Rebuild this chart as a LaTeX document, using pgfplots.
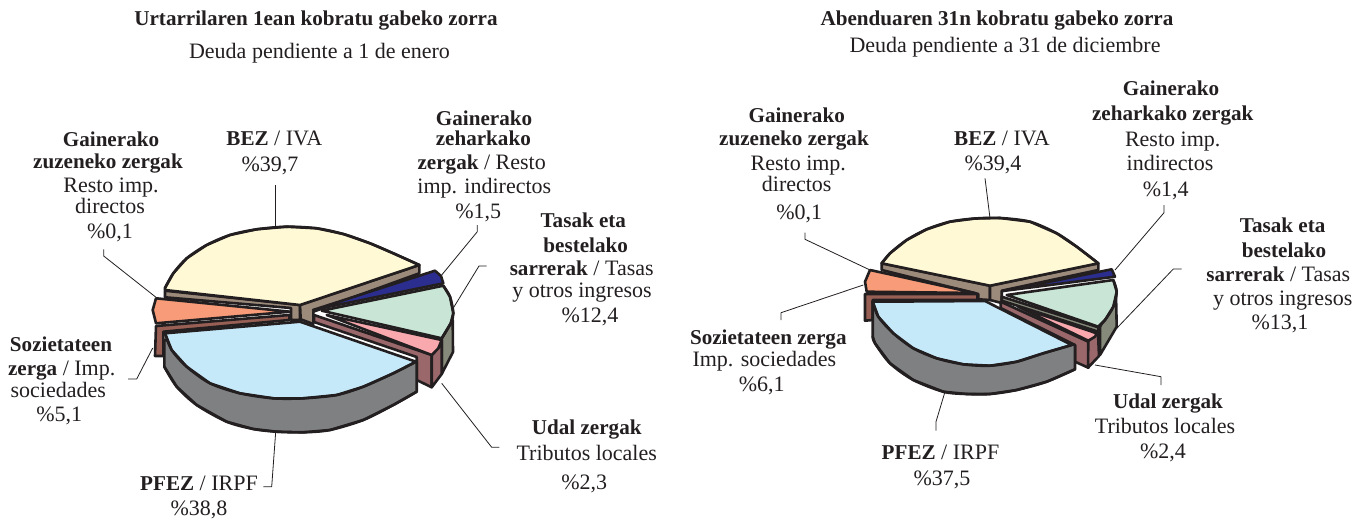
\documentclass[border=0pt]{standalone}
\usepackage{fontspec}
\setmainfont[BoldFeatures={Scale=0.96}]{Liberation Serif}
\usepackage{pgfplots}
\pgfplotsset{compat=1.18}

\definecolor{ink}{HTML}{231F20}
\definecolor{cYellow}{HTML}{FFF9D6}
\definecolor{cTan}{HTML}{9C8B7B}
\definecolor{cBlue}{HTML}{2B2E8F}
\definecolor{cGreen}{HTML}{C9E5D5}
\definecolor{cOlive}{HTML}{868A7A}
\definecolor{cPink}{HTML}{F9A8AE}
\definecolor{cMauve}{HTML}{9A686B}
\definecolor{cSalmon}{HTML}{F79B78}
\definecolor{cBrown}{HTML}{985F55}
\definecolor{cSky}{HTML}{C6E9FA}
\definecolor{cGray}{HTML}{7F8082}

\pgfplotsset{
  part/.style={draw=ink,line width=2.6pt,line join=round,fill=#1},
  edge/.style={draw=ink,line width=2.6pt,smooth,line cap=round},
  lead/.style={draw=ink,line width=0.8pt,line join=round},
}
\tikzset{lab/.style={anchor=base,inner sep=0pt,text=ink,font=\fontsize{22}{24}\selectfont}}

\begin{document}
\begin{tikzpicture}
\begin{axis}[
    width=1368pt, height=520pt, scale only axis,
    xmin=0, xmax=1368, ymin=0, ymax=520,
    y dir=reverse, hide axis, clip=false, no markers,
]
\path (axis cs:0,0) (axis cs:1368,520);

% ---- left pie ----
\addplot[part=cTan] coordinates {(165,290.7)(300,305)(300,320)(291,320)(291,308)(165,297.3)} --cycle;
\addplot[part=cTan] coordinates {(300,305)(419.3,265)(419.3,273.3)(313.3,311.7)(313.3,324)(300.7,319.3)} --cycle;
\addplot[part=cYellow] coordinates {(300,305)(165,290)(165,288)(173.3,273.3)(186.7,258.3)(206.7,245)(230,235)(256.7,229.3)(286.7,226.7)(316.7,228.3)(343.3,234)(370,243.3)(393.3,253.3)(419.3,265)} --cycle;
\addplot[edge] coordinates {(165,288)(173.3,273.3)(186.7,258.3)(206.7,245)(230,235)(256.7,229.3)(286.7,226.7)(316.7,228.3)(343.3,234)(370,243.3)(393.3,253.3)(419.3,265)};
\addplot[part=cBlue] coordinates {(313,310)(435,270.7)(441,276)(443.3,283.3)} --cycle;
\addplot[part=cOlive] coordinates {(441.7,338.3)(452.7,320)(453,352)(441.7,374)} --cycle;
\addplot[part=cGreen] coordinates {(321.7,310.7)(443.3,285.7)(450,296.7)(453.3,313.3)(450.7,323.3)(441.7,338.3)} --cycle;
\addplot[edge] coordinates {(443.3,285.7)(450,296.7)(453.3,313.3)(450.7,323.3)(441.7,338.3)};
\addplot[part=cMauve] coordinates {(314,315)(431.7,355)(431.7,387.3)(416.7,380)(416.7,357)(314,322)} --cycle;
\addplot[part=cMauve] coordinates {(431.7,355)(438.3,348.3)(441.7,340)(441.7,374)(431.7,387.3)} --cycle;
\addplot[part=cPink] coordinates {(326.7,315)(441.7,340)(438.3,348.3)(431.7,355)} --cycle;
\addplot[part=cSalmon] coordinates {(290,311.7)(156,298.3)(152.7,310)(156,323.3)} --cycle;
\addplot[part=cBrown] coordinates {(156,326)(289.3,315)(289.3,320)(163.3,331.7)(163.3,356)(155,356)} --cycle;
\addplot[part=cGray] coordinates {(164.3,340)(164.3,366.7)(176.7,386.7)(196.7,405)(226.7,421.7)(253.3,429)(276.7,431.7)(303.3,432.3)(330,430)(363.3,420)(393.3,405)(416.7,391.7)(416.7,361.7)} --cycle;
\addplot[edge] coordinates {(164.3,366.7)(176.7,386.7)(196.7,405)(226.7,421.7)(253.3,429)(276.7,431.7)(303.3,432.3)(330,430)(363.3,420)(393.3,405)(416.7,391.7)};
\addplot[part=cSky] coordinates {(300,321.7)(165,333.3)(171.7,350)(186.7,366.7)(210,383.3)(240,393.3)(273.3,398.3)(303.3,398.3)(336.7,395)(363.3,386.7)(393.3,373.3)(416,361.7)} --cycle;
\addplot[edge] coordinates {(165,333.3)(171.7,350)(186.7,366.7)(210,383.3)(240,393.3)(273.3,398.3)(303.3,398.3)(336.7,395)(363.3,386.7)(393.3,373.3)(416,361.7)};

% leaders, left
\addplot[lead] coordinates {(275.7,185)(275.7,226.7)};
\addplot[lead] coordinates {(103.7,249.3)(103.7,256)(156,297.3)};
\addplot[lead] coordinates {(477.3,225)(477.3,231.7)(441.7,275)};
\addplot[lead] coordinates {(486.7,266)(479,266)(453.3,308)};
\addplot[lead] coordinates {(441.7,383.3)(491.7,447.3)(499.3,447.3)};
\addplot[lead] coordinates {(275.7,431.7)(271.7,486.7)(263.3,486.7)};
\addplot[lead] coordinates {(152.7,348)(136.7,379)(128,379)};

% ---- right pie ----
\addplot[part=cTan] coordinates {(881.7,263.3)(990,285.7)(990,300)(978.3,299.3)(978.3,294)(881.7,270)} --cycle;
\addplot[part=cTan] coordinates {(990,285.7)(1098.3,263.3)(1098.3,270)(1001.7,290.7)(1001.7,303)(990,300)} --cycle;
\addplot[part=cYellow] coordinates {(990,285.7)(881.7,263.3)(890,253.3)(906.7,240)(926.7,229.3)(950,221.7)(975,218.5)(1000,218)(1030,221.7)(1056.7,233.3)(1076.7,246.7)(1098.3,263.3)} --cycle;
\addplot[edge] coordinates {(881.7,263.3)(890,253.3)(906.7,240)(926.7,229.3)(950,221.7)(975,218.5)(1000,218)(1030,221.7)(1056.7,233.3)(1076.7,246.7)(1098.3,263.3)};
\addplot[part=cBlue] coordinates {(1003,291)(1111.7,269.3)(1115,276.7)} --cycle;
\addplot[part=cOlive] coordinates {(1100,327)(1116,295)(1116.7,326.7)(1100,355)} --cycle;
\addplot[part=cGreen] coordinates {(1006.7,295)(1113.3,280)(1116.7,291.7)(1113.3,306.7)(1105,320)(1098.3,326.7)} --cycle;
\addplot[edge] coordinates {(1113.3,280)(1116.7,291.7)(1113.3,306.7)(1105,320)(1098.3,326.7)};
\addplot[part=cOlive] coordinates {(1001.7,296.7)(1098.3,327.3)(1098.3,331.7)(1001.7,300.7)} --cycle;
\addplot[part=cMauve] coordinates {(1000.7,301.7)(1088.3,341.7)(1088.3,367.7)(1075,361.7)(1075,345)(1000.7,308)} --cycle;
\addplot[part=cMauve] coordinates {(1088.3,341)(1098,333)(1099,356)(1088,367.7)} --cycle;
\addplot[part=cPink] coordinates {(1018,306.7)(1096.7,333.3)(1095,336.7)(1088.3,340.7)} --cycle;
\addplot[part=cSalmon] coordinates {(870,270)(975,293)(866.7,291.7)(865,281.7)} --cycle;
\addplot[part=cBrown] coordinates {(865,294)(977.3,294)(977.3,300)(872.7,300)(872.7,320)(865,320.7)} --cycle;
\addplot[part=cGray] coordinates {(872.7,301.7)(872.7,336.7)(875,343.3)(890,363.3)(913.3,380)(943.3,391.7)(966.7,394)(990,394)(1016.7,390)(1046.7,381.7)(1075,369.3)(1075,345)} --cycle;
\addplot[edge] coordinates {(872.7,336.7)(875,343.3)(890,363.3)(913.3,380)(943.3,391.7)(966.7,394)(990,394)(1016.7,390)(1046.7,381.7)(1075,369.3)};
\addplot[part=cSky] coordinates {(985,301)(872.7,301.7)(878.3,316.7)(893.3,333.3)(913.3,348.3)(936.7,358.3)(963.3,364.3)(990,365.7)(1016.7,361.7)(1043.3,353.3)(1071.7,345)} --cycle;
\addplot[edge] coordinates {(872.7,301.7)(878.3,316.7)(893.3,333.3)(913.3,348.3)(936.7,358.3)(963.3,364.3)(990,365.7)(1016.7,361.7)(1043.3,353.3)(1071.7,345)};

% leaders, right
\addplot[lead] coordinates {(985,178.3)(990,218.3)};
\addplot[lead] coordinates {(805,232.7)(805,239.3)(870,270)};
\addplot[lead] coordinates {(781,320)(781,312.7)(863.3,285)};
\addplot[lead] coordinates {(1164,205)(1164,212.7)(1115,270)};
\addplot[lead] coordinates {(1181.7,269)(1173.3,269)(1116.7,328.3)};
\addplot[lead] coordinates {(1095,365)(1161,376.7)(1161,385)};
\addplot[lead] coordinates {(945,391.7)(936,421.7)(936,430.7)};

% ---- text, left ----
\node[lab] at (axis cs:316,25) {\textbf{Urtarrilaren 1ean kobratu gabeko zorra}};
\node[lab] at (axis cs:319.5,58) {Deuda pendiente a 1 de enero};
\node[lab] at (axis cs:111,146.7) {\textbf{Gainerako}};
\node[lab] at (axis cs:108,168.3) {\textbf{zuzeneko zergak}};
\node[lab] at (axis cs:111,192.7) {Resto imp.};
\node[lab] at (axis cs:110,213.3) {directos};
\node[lab] at (axis cs:110,238) {\%0,1};
\node[lab] at (axis cs:274.3,145) {\textbf{BEZ} / IVA};
\node[lab] at (axis cs:270,171.7) {\%39,7};
\node[lab] at (axis cs:484,125) {\textbf{Gainerako}};
\node[lab] at (axis cs:483.3,145) {\textbf{zeharkako}};
\node[lab] at (axis cs:481.7,169) {\textbf{zergak} / Resto};
\node[lab] at (axis cs:484.3,193.3) {imp. indirectos};
\node[lab] at (axis cs:478.3,218.3) {\%1,5};
\node[lab] at (axis cs:583.3,227.7) {\textbf{Tasak eta}};
\node[lab] at (axis cs:585.7,252.7) {\textbf{bestelako}};
\node[lab] at (axis cs:581.7,275) {\textbf{sarrerak} / Tasas};
\node[lab] at (axis cs:582,297) {y otros ingresos};
\node[lab] at (axis cs:590,322) {\%12,4};
\node[lab] at (axis cs:61,351) {\textbf{Sozietateen}};
\node[lab] at (axis cs:61.7,375) {\textbf{zerga} / Imp.};
\node[lab] at (axis cs:58.3,397.3) {sociedades};
\node[lab] at (axis cs:59.3,421.7) {\%5,1};
\node[lab] at (axis cs:199,490) {\textbf{PFEZ} / IRPF};
\node[lab] at (axis cs:199,515) {\%38,8};
\node[lab] at (axis cs:586.7,434.3) {\textbf{Udal zergak}};
\node[lab] at (axis cs:586.7,460) {Tributos locales};
\node[lab] at (axis cs:584.3,489.3) {\%2,3};

% ---- text, right ----
\node[lab] at (axis cs:997,25) {\textbf{Abenduaren 31n kobratu gabeko zorra}};
\node[lab] at (axis cs:1005,52) {Deuda pendiente a 31 de diciembre};
\node[lab] at (axis cs:1171,95.7) {\textbf{Gainerako}};
\node[lab] at (axis cs:1172.7,120) {\textbf{zeharkako zergak}};
\node[lab] at (axis cs:1172.7,146.7) {Resto imp.};
\node[lab] at (axis cs:1170,170) {indirectos};
\node[lab] at (axis cs:1165.7,196.7) {\%1,4};
\node[lab] at (axis cs:1282.7,232.7) {\textbf{Tasak eta}};
\node[lab] at (axis cs:1284,257.7) {\textbf{bestelako}};
\node[lab] at (axis cs:1278.3,281.7) {\textbf{sarrerak} / Tasas};
\node[lab] at (axis cs:1282.7,305) {y otros ingresos};
\node[lab] at (axis cs:1280,329.3) {\%13,1};
\node[lab] at (axis cs:796.7,122.7) {\textbf{Gainerako}};
\node[lab] at (axis cs:794,145.7) {\textbf{zuzeneko zergak}};
\node[lab] at (axis cs:798.3,170) {Resto imp.};
\node[lab] at (axis cs:796.7,191.7) {directos};
\node[lab] at (axis cs:799.3,219.3) {\%0,1};
\node[lab] at (axis cs:1002,145) {\textbf{BEZ} / IVA};
\node[lab] at (axis cs:993,170) {\%39,4};
\node[lab] at (axis cs:768.3,344.3) {\textbf{Sozietateen zerga}};
\node[lab] at (axis cs:764.3,366.7) {Imp. sociedades};
\node[lab] at (axis cs:761.7,391.7) {\%6,1};
\node[lab] at (axis cs:1168,408) {\textbf{Udal zergak}};
\node[lab] at (axis cs:1165,433) {Tributos locales};
\node[lab] at (axis cs:1163,458) {\%2,4};
\node[lab] at (axis cs:940.5,459) {\textbf{PFEZ} / IRPF};
\node[lab] at (axis cs:942,485) {\%37,5};
\end{axis}
\end{tikzpicture}
\end{document}
